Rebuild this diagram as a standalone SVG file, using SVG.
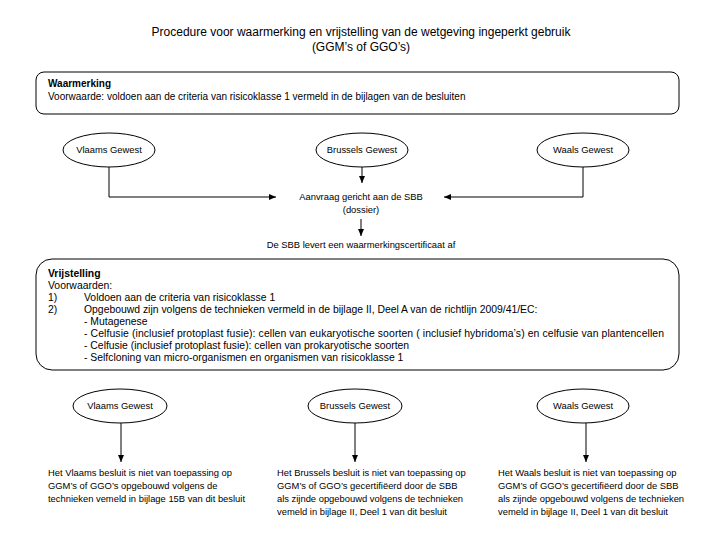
<svg xmlns="http://www.w3.org/2000/svg" width="720" height="540" viewBox="0 0 720 540">
<style>
text{font-family:"Liberation Sans",Arial,sans-serif;font-size:9.4px;fill:#000}
.t{font-size:12px}
.b{font-weight:bold}
.m{text-anchor:middle}
.v{font-size:10.4px}
.w{font-size:10px}
.box,.ell{fill:#fff;stroke:#000;stroke-width:1}
.c{fill:none;stroke:#000;stroke-width:1}
</style>
<defs>
<marker id="ah" markerWidth="8" markerHeight="8" refX="7" refY="4" orient="auto" markerUnits="userSpaceOnUse">
<path d="M0,1 L7,4 L0,7 Z" fill="#000"/>
</marker>
</defs>
<rect width="720" height="540" fill="#fff"/>
<g id="title">
<text class="t m" x="361" y="36">Procedure voor waarmerking en vrijstelling van de wetgeving ingeperkt gebruik</text>
<text class="t m" x="361" y="51">(GGM’s of GGO’s)</text>
</g>
<g id="waarmerking">
<rect class="box" x="36" y="72" width="643" height="42" rx="8"/>
<text class="b w" x="48" y="87">Waarmerking</text>
<text class="w" x="48" y="100">Voorwaarde: voldoen aan de criteria van risicoklasse 1 vermeld in de bijlagen van de besluiten</text>
</g>
<g id="vlaams1">
<ellipse class="ell" cx="109" cy="150" rx="46" ry="17"/>
<text class="m" x="109" y="153">Vlaams Gewest</text>
</g>
<g id="brussels1">
<ellipse class="ell" cx="362" cy="150" rx="46" ry="17"/>
<text class="m" x="362" y="153">Brussels Gewest</text>
</g>
<g id="waals1">
<ellipse class="ell" cx="583" cy="150" rx="46" ry="17"/>
<text class="m" x="583" y="153">Waals Gewest</text>
</g>
<g id="aanvraag">
<text class="m" x="361" y="200">Aanvraag gericht aan de SBB</text>
<text class="m" x="361" y="213">(dossier)</text>
</g>
<g id="certificaat">
<text class="m" x="361" y="248">De SBB levert een waarmerkingscertificaat af</text>
</g>
<g id="vrijstelling">
<rect class="box" x="36" y="259" width="643" height="111" rx="16"/>
<text class="b v" x="48" y="277">Vrijstelling</text>
<text class="v" x="48" y="289">Voorwaarden:</text>
<text class="v" x="48" y="301">1)</text>
<text class="v" x="84" y="301">Voldoen aan de criteria van risicoklasse 1</text>
<text class="v" x="48" y="313">2)</text>
<text class="v" x="84" y="313">Opgebouwd zijn volgens de technieken vermeld in de bijlage II, Deel A van de richtlijn 2009/41/EC:</text>
<text class="v" x="84" y="325">- Mutagenese</text>
<text class="v" x="84" y="337" textLength="580" lengthAdjust="spacing">- Celfusie (inclusief protoplast fusie): cellen van eukaryotische soorten ( inclusief hybridoma’s) en celfusie van plantencellen</text>
<text class="v" x="84" y="349">- Celfusie (inclusief protoplast fusie): cellen van prokaryotische soorten</text>
<text class="v" x="84" y="361">- Selfcloning van micro-organismen en organismen van risicoklasse 1</text>
</g>
<g id="vlaams2">
<ellipse class="ell" cx="120" cy="406" rx="47" ry="17"/>
<text class="m" x="120" y="409">Vlaams Gewest</text>
</g>
<g id="brussels2">
<ellipse class="ell" cx="355" cy="406" rx="47" ry="17"/>
<text class="m" x="355" y="409">Brussels Gewest</text>
</g>
<g id="waals2">
<ellipse class="ell" cx="583" cy="406" rx="46" ry="17"/>
<text class="m" x="583" y="409">Waals Gewest</text>
</g>
<g id="vlaamsText">
<text x="48" y="476">Het Vlaams besluit is niet van toepassing op</text>
<text x="48" y="489">GGM’s of GGO’s opgebouwd volgens de</text>
<text x="48" y="502">technieken vemeld in bijlage 15B van dit besluit</text>
</g>
<g id="brusselsText">
<text x="277" y="476">Het Brussels besluit is niet van toepassing op</text>
<text x="277" y="489">GGM’s of GGO’s gecertifiëerd door de SBB</text>
<text x="277" y="502">als zijnde opgebouwd volgens de technieken</text>
<text x="277" y="515">vemeld in bijlage II, Deel 1 van dit besluit</text>
</g>
<g id="waalsText">
<text x="498" y="476">Het Waals besluit is niet van toepassing op</text>
<text x="498" y="489">GGM’s of GGO’s gecertifiëerd door de SBB</text>
<text x="498" y="502">als zijnde opgebouwd volgens de technieken</text>
<text x="498" y="515">vemeld in bijlage II, Deel 1 van dit besluit</text>
</g>
<g id="connectors">
<path class="c" d="M109,167 V197 H276" marker-end="url(#ah)"/>
<path class="c" d="M362,167 V183" marker-end="url(#ah)"/>
<path class="c" d="M583,167 V197 H444" marker-end="url(#ah)"/>
<path class="c" d="M361,219 V236" marker-end="url(#ah)"/>
<path class="c" d="M121,423 V462" marker-end="url(#ah)"/>
<path class="c" d="M355,423 V462" marker-end="url(#ah)"/>
<path class="c" d="M586,423 V462" marker-end="url(#ah)"/>
</g>
</svg>
